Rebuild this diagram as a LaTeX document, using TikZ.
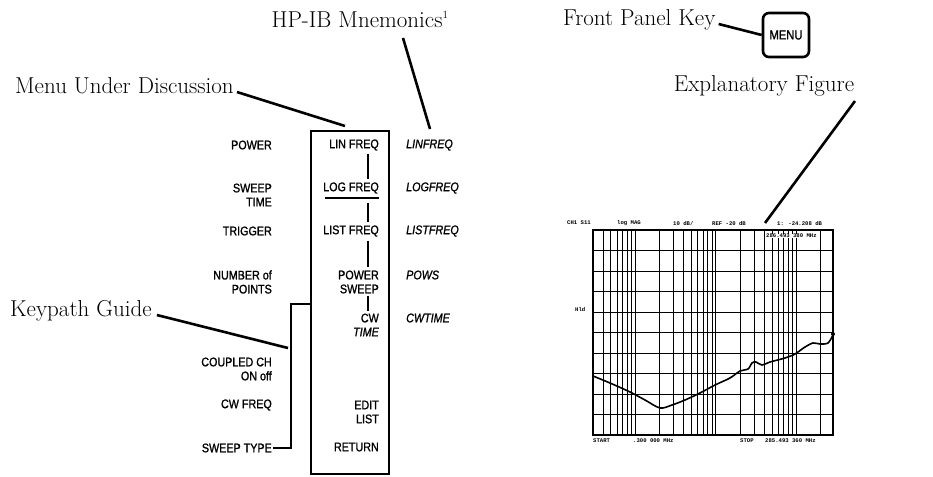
\documentclass[tikz,border=0pt]{standalone}
\usepackage{fontspec}
\usepackage{tikz}
\usetikzlibrary{calc,positioning}
\newfontfamily\keyfont[FakeStretch=0.86,FakeBold=1.2]{Liberation Sans}
\newfontfamily\plotfont{Liberation Mono}
\newcommand{\keysize}{\keyfont\fontsize{12.5}{14}\selectfont}
\newcommand{\callsize}{\fontsize{23}{26}\selectfont}
\newcommand{\plotsize}{\plotfont\bfseries\fontsize{5.6}{5.6}\selectfont}

\tikzset{
  callout/.style={font=\callsize,inner sep=1pt},
  leader/.style={line width=2.6pt},
  softkey/.style={font=\keysize,align=right,anchor=east,inner sep=1pt},
  mnem/.style={font=\keysize\itshape,anchor=west,inner sep=1pt},
  keypath/.style={line width=2pt},
  plottxt/.style={font=\plotsize,inner sep=0pt,anchor=west},
}

\begin{document}
\begin{tikzpicture}[x=1pt,y=-1pt]
  \useasboundingbox (0,0) rectangle (933,476);

  % callouts
  \node[callout] (hpib) at (360,19) {HP-IB Mnemonics\textsuperscript{\fontsize{11}{11}\selectfont 1}};
  \node[callout,anchor=west] (mud) at (14,86) {Menu Under Discussion};
  \node[callout,anchor=west] (kpg) at (9,311) {Keypath Guide};
  \node[callout,anchor=west] (fpk) at (562,20) {Front Panel Key};
  \node[callout] (expl) at (764,86) {Explanatory Figure};

  % front panel key
  \node[draw,line width=2.6pt,rounded corners=6pt,minimum width=46pt,minimum height=44pt,
        font=\keyfont\fontsize{13}{14}\selectfont] (menukey) at (786,35) {MENU};

  % menu under discussion
  \draw[line width=2.4pt] (311,131) rectangle (389,474);
  \node[softkey] (lin) at (380,145) {LIN FREQ};
  \node[softkey] (log) at (380,188) {LOG FREQ};
  \node[softkey] (list) at (380,231) {LIST FREQ};
  \node[softkey] (pows) at (380,282) {POWER\\SWEEP};
  \node[softkey] (cw) at (380,325) {CW\\\itshape TIME};
  \node[softkey] (edit) at (380,412) {EDIT\\LIST};
  \node[softkey] (ret) at (380,447) {RETURN};
  \draw[line width=2pt] (325,198) -- (379,198);
  \draw[keypath] ($(lin.south east)+(-12,2)$) -- ($(log.north east)+(-12,-2)$);
  \draw[keypath] ($(log.south east)+(-12,8)$) -- ($(list.north east)+(-12,-2)$);
  \draw[keypath] ($(list.south east)+(-12,3)$) -- ($(pows.north east)+(-12,-2)$);
  \draw[keypath] ($(pows.south east)+(-12,1)$) -- ($(cw.north east)+(-12,-1)$);

  % mnemonics
  \node[mnem] (mlin) at (405,145) {LINFREQ};
  \node[mnem] (mlog) at (405,188) {LOGFREQ};
  \node[mnem] (mlist) at (405,231) {LISTFREQ};
  \node[mnem] (mpows) at (405,275) {POWS};
  \node[mnem] (mcw) at (405,318) {CWTIME};

  % softkeys of the previous menu
  \node[softkey] (power) at (273,145) {POWER};
  \node[softkey] (swtime) at (273,195) {SWEEP\\TIME};
  \node[softkey] (trig) at (273,231) {TRIGGER};
  \node[softkey] (npts) at (273,282) {NUMBER of\\POINTS};
  \node[softkey] (coupl) at (273,369) {COUPLED CH\\ON off};
  \node[softkey] (cwf) at (273,405) {CW FREQ};
  \node[softkey] (swtype) at (273,448) {SWEEP TYPE};
  \draw[keypath] (swtype.east) -- ++(18,0) |- (311,304);

  % leader lines
  \coordinate (mudtip) at (345,126);
  \coordinate (hpibtip) at (430,129);
  \coordinate (kpgtip) at (288,348);
  \coordinate (expltip) at (765,223);
  \draw[leader] (mud.east) ++(2,6) -- (mudtip);
  \draw[leader] (403,38) -- (hpibtip);
  \draw[leader] (kpg.east) ++(4,4) -- (kpgtip);
  \draw[leader] (855,101) -- (expltip);
  \draw[leader] (fpk.east) ++(2,4) -- (menukey.west);

  % explanatory figure: log frequency grid .3 to 285.5 MHz
  \foreach \k in {1,...,9}
    \draw[line width=0.9pt] (593,230+20.5*\k) -- (833,230+20.5*\k);
  \foreach \f in {0.4,0.5,0.6,0.7,0.8,0.9,1,2,3,4,5,6,7,8,9,10,20,30,40,50,60,70,80,90,100,200}
    \draw[line width=0.9pt] ({593+35.0*ln(\f/0.3)},230) -- ({593+35.0*ln(\f/0.3)},435);
  \draw[line width=1.3pt] (593,230) rectangle (833,435);
  \draw[line width=1.6pt] plot[smooth] coordinates {(593,376) (610,383) (630,392) (645,400)
    (660,408) (672,405) (685,400) (700,393) (715,385) (730,378) (740,371) (748,369)
    (752,363) (756,362) (762,365) (770,362) (785,358) (795,354) (805,347) (813,343)
    (820,344) (828,343) (833,335)};
  \fill (833,334) circle (2pt);
  \node[plottxt] (hdr) at (567,223) {CH1 S11};
  \node[plottxt] at (617,223) {log MAG};
  \node[plottxt] at (673,223) {10 dB/};
  \node[plottxt] at (712,223) {REF -20 dB};
  \node[plottxt] at (777,223) {1: -24.208 dB};
  \node[plottxt,fill=white] at (766,236) {286.493 380 MHz};
  \node[plottxt] at (575,309) {Hld};
  \node[plottxt] at (593,441) {START};
  \node[plottxt] at (633,441) {.300 000 MHz};
  \node[plottxt] at (740,441) {STOP};
  \node[plottxt] at (765,441) {285.493 360 MHz};
\end{tikzpicture}
\end{document}
